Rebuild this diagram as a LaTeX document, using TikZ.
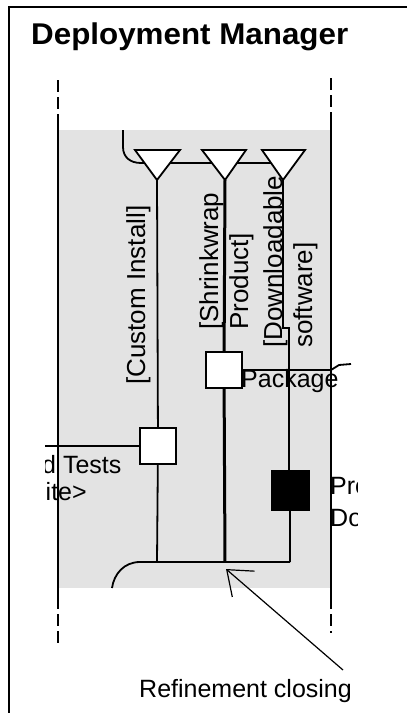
\documentclass[tikz,border=0pt]{standalone}
\usepackage{fontspec}
\setmainfont{Liberation Sans}
\usetikzlibrary{arrows.meta}
\begin{document}
\begin{tikzpicture}[x=1pt,y=-1pt,
  ln/.style={line width=1.8pt},
  thickln/.style={line width=3pt},
  lane/.style={line width=2pt},
  lanedash/.style={line width=2pt, dash pattern=on 12pt off 5pt},
  box/.style={draw, line width=2.2pt, fill=white, minimum size=36pt, inner sep=0pt},
  blackbox/.style={draw, line width=1pt, fill=black, minimum width=38pt, minimum height=40pt, inner sep=0pt},
  fork/.style={draw, line width=1.8pt, fill=white, line join=miter},
  lbl/.style={font=\fontsize{25}{30}\selectfont, inner sep=0pt},
  vlbl/.style={font=\fontsize{26}{30}\selectfont, inner sep=0pt, rotate=90, anchor=base west},
]
\path[use as bounding box, fill=white] (0,0) rectangle (407,713);

% frame
\coordinate (fTL) at (9,7);
\coordinate (fTR) at (407,7);
\coordinate (fBL) at (9,713);
\draw[line width=2pt] (fBL) -- (fTL) -- (fTR);

% title
\node[font=\bfseries\fontsize{30}{32}\selectfont, xscale=1.045, anchor=base west, inner sep=0pt] (title) at (31,44) {Deployment Manager};

% shaded swimlane
\fill[black!11] (58,130) rectangle (331,588);

% swimlane lines
\coordinate (Lt) at (58,80);  \coordinate (Lm1) at (58,122); \coordinate (Lm2) at (58,597); \coordinate (Lb) at (58,643);
\coordinate (Rt) at (331,78); \coordinate (Rm1) at (331,122); \coordinate (Rm2) at (331,597); \coordinate (Rb) at (331,633);
\draw[lanedash] (Lt) -- (Lm1);
\draw[lane] (Lm1) -- (Lm2);
\draw[lanedash] (Lm2) -- (Lb);
\draw[lanedash] (Rt) -- (Rm1);
\draw[lane] (Rm1) -- (Rm2);
\draw[lanedash] (Rm2) -- (Rb);

% fork apexes and join points
\coordinate (a1) at (157,180);
\coordinate (a2) at (225,180);
\coordinate (a3) at (283,180);
\coordinate (b1) at (157,562);
\coordinate (b2) at (225,562);
\coordinate (b3) at (290,562);

% top incoming flow and fork bar
\coordinate (inTop) at (123,130);
\coordinate (forkEnd) at (283,163);
\draw[ln] (inTop) -- (123,147) .. controls (123,157) and (130,163) .. (141,163) -- (forkEnd);

% bottom join bar and outgoing flow
\coordinate (outEnd) at (112,588);
\draw[ln] (b3) -- (b1) -- (140,562) .. controls (124,562) and (114,574) .. (outEnd);

% activity boxes
\node[box] (sq1) at (158,446) {};
\node[box] (sq2) at (224,370) {};
\node[blackbox] (blk) at (290,490) {};

% vertical flows
\draw[ln] (a1) -- (sq1);
\draw[ln] (sq1) -- (b1);
\draw[thickln] (a2) -- (sq2);
\draw[thickln] (sq2) -- (b2);
\draw[ln] (a3) -- (283,328) -- (289,328) -- (blk.north -| 289,0);
\draw[ln] (blk.south) -- (b3);

% redraw boxes on top
\node[box] at (sq1) {};
\node[box] at (sq2) {};
\node[blackbox] at (blk) {};

% fork triangles
\draw[fork] (135,150) -- (180,150) -- (a1) -- cycle;
\draw[fork] (202,150) -- (246,150) -- (a2) -- cycle;
\draw[fork] (262,150) -- (305,150) -- (a3) -- cycle;

% side flows
\coordinate (leftIn) at (45,446);
\draw[ln] (leftIn) -- (sq1.west);
\coordinate (pkgA) at (331,370);
\coordinate (pkgB) at (339,365);
\coordinate (pkgC) at (351,364);
\draw[ln] (sq2.east) -- (pkgA) -- (pkgB) -- (pkgC);

% guard labels
\node[vlbl] (ci)  at (145,385) {[Custom Install]};
\node[vlbl] (sw1) at (218,330) {[Shrinkwrap};
\node[vlbl] (sw2) at (248,330) {Product]};
\node[vlbl] (dl1) at (282,348) {[Downloadable};
\node[vlbl] (dl2) at (312,348) {software]};

% other labels
\begin{scope}
\clip (45,440) rectangle (200,520);
\node[lbl, anchor=base west] (tests) at (42,473) {d Tests};
\node[lbl, anchor=base west] (site) at (45.5,500) {ite>};
\end{scope}
\node[lbl, anchor=base west] (pkg) at (241,387) {Package};
\begin{scope}
\clip (320,460) rectangle (357,540);
\node[lbl, anchor=base west] (pro) at (330,494) {Pro};
\node[lbl, anchor=base west] (doc) at (330,526) {Do};
\end{scope}

% refinement note
\coordinate (tip) at (226,569);
\coordinate (tail) at (343,670);
\draw[line width=1.2pt, -{Straight Barb[length=22pt,width=34pt,line width=1.2pt]}] (tail) -- (tip);
\node[lbl, anchor=base west] (ref) at (139,697) {Refinement closing};
\end{tikzpicture}
\end{document}
